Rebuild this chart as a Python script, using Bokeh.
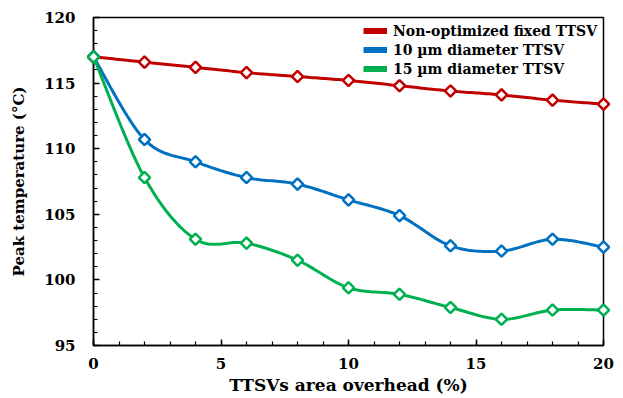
import numpy as np
from bokeh.plotting import figure
from bokeh.models import Range1d, Legend, LegendItem, FixedTicker
from bokeh.embed import file_html
from bokeh.resources import INLINE

x_vals = [0, 2, 4, 6, 8, 10, 12, 14, 16, 18, 20]
non_opt = [117.0, 116.6, 116.2, 115.8, 115.5, 115.2, 114.8, 114.4, 114.1, 113.7, 113.4]
d10 = [117.0, 110.7, 109.0, 107.8, 107.3, 106.1, 104.9, 102.6, 102.2, 103.1, 102.5]
d15 = [117.0, 107.8, 103.1, 102.8, 101.5, 99.4, 98.9, 97.9, 97.0, 97.7, 97.7]
labels = ["Non-optimized fixed TTSV", "10 \u00b5m diameter TTSV", "15 \u00b5m diameter TTSV"]
colors = ["#C00000", "#0070C0", "#00B050"]
x_ticks = [0, 5, 10, 15, 20]
y_ticks = [95, 100, 105, 110, 115, 120]

FONT = "DejaVu Serif"


def smooth(xs, ys, n=20, tension=0.5):
    # Bezier smoothing through the data points (spreadsheet-style smoothed line)
    xs = np.asarray(xs, float)
    ys = np.asarray(ys, float)
    px = np.concatenate([[xs[0]], xs, [xs[-1]]])
    py = np.concatenate([[ys[0]], ys, [ys[-1]]])
    ox, oy = [], []
    t = np.linspace(0, 1, n, endpoint=False)
    for i in range(1, len(px) - 2):
        p0 = np.array([px[i], py[i]])
        p1 = np.array([px[i + 1], py[i + 1]])
        c1 = p0 + (np.array([px[i + 1], py[i + 1]]) - np.array([px[i - 1], py[i - 1]])) * tension / 3
        c2 = p1 - (np.array([px[i + 2], py[i + 2]]) - np.array([px[i], py[i]])) * tension / 3
        for tt in t:
            b = ((1 - tt) ** 3) * p0 + 3 * ((1 - tt) ** 2) * tt * c1 + 3 * (1 - tt) * tt ** 2 * c2 + tt ** 3 * p1
            ox.append(b[0])
            oy.append(b[1])
    ox.append(xs[-1])
    oy.append(ys[-1])
    return ox, oy


p = figure(width=623, height=398, output_backend="svg", toolbar_location=None,
           x_range=Range1d(0, 20), y_range=Range1d(95, 120),
           min_border_left=93, min_border_right=20, min_border_top=17, min_border_bottom=53)
p.grid.visible = False
p.outline_line_color = "black"
p.outline_line_width = 1.5
p.background_fill_color = "white"
p.border_fill_color = "white"

items = []
for ys, col, lab in zip([non_opt, d10, d15], colors, labels):
    sx, sy = smooth(x_vals, ys)
    p.line(sx, sy, line_color=col, line_width=3, level="overlay")
    p.scatter(x_vals, ys, marker="square", angle=np.pi / 4, size=8, fill_color="white",
              line_color=col, line_width=2.5, level="overlay")
    dummy = p.line([np.nan], [np.nan], line_color=col, line_width=6)
    items.append(LegendItem(label=lab, renderers=[dummy]))

legend = Legend(items=items, location=(270, 267), border_line_color=None,
                background_fill_alpha=0, label_text_font=FONT, label_text_font_style="bold",
                label_text_font_size="14px", label_text_color="black",
                glyph_width=24, glyph_height=19,
                label_height=19, spacing=0, padding=2, margin=0, label_standoff=6)
p.add_layout(legend)

for ax in [p.xaxis[0], p.yaxis[0]]:
    ax.axis_line_width = 1.5
    ax.axis_line_color = "black"
    ax.major_tick_in = 6
    ax.major_tick_out = 0
    ax.minor_tick_in = 4
    ax.minor_tick_out = 0
    ax.major_tick_line_width = 1.5
    ax.minor_tick_line_width = 1.2
    ax.major_tick_line_color = "black"
    ax.minor_tick_line_color = "black"
    ax.major_label_text_font = FONT
    ax.major_label_text_font_style = "bold"
    ax.major_label_text_font_size = "15px"
    ax.major_label_text_color = "black"
    ax.axis_label_text_font = FONT
    ax.axis_label_text_font_style = "bold"
    ax.axis_label_text_color = "black"

p.xaxis.axis_label_text_font_size = "17px"
p.yaxis.axis_label_text_font_size = "15px"
p.xaxis.ticker = FixedTicker(ticks=x_ticks, minor_ticks=list(range(0, 21)))
p.yaxis.ticker = FixedTicker(ticks=y_ticks, minor_ticks=list(range(95, 121)))
p.xaxis.axis_label = "TTSVs area overhead (%)"
p.yaxis.axis_label = "Peak temperature (\u00b0C)"
p.xaxis.major_label_standoff = 12
p.yaxis.major_label_standoff = 18
p.xaxis.axis_label_standoff = 3
p.yaxis.axis_label_standoff = 13

open("out.html", "w").write(file_html(p, INLINE))
